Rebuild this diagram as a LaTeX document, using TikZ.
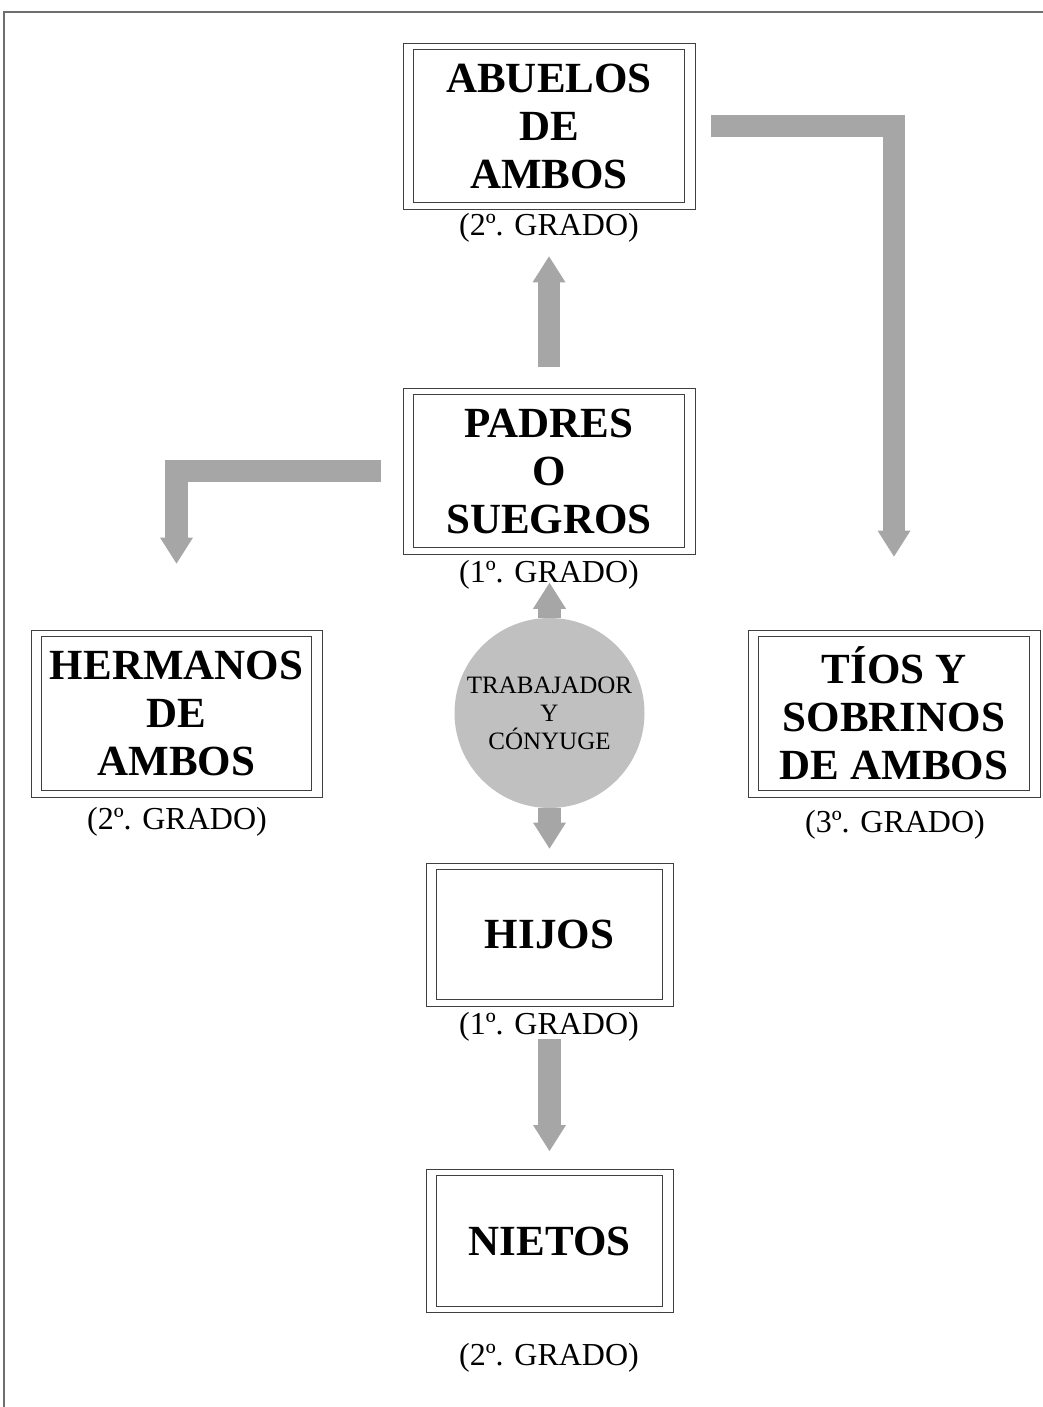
\documentclass[tikz,border=0pt]{standalone}
\usepackage{fontspec}
\setmainfont{Liberation Serif}
\usetikzlibrary{arrows.meta}
\definecolor{arrowgray}{RGB}{166,166,166}
\definecolor{discgray}{RGB}{192,192,192}
\definecolor{framegray}{RGB}{110,110,110}
\tikzset{
	kinbox/.style={draw=black!75, line width=0.8pt, minimum width=292pt, minimum height=166pt, align=center, inner sep=0pt, font=\fontsize{43}{48}\selectfont\bfseries},
	smallbox/.style={kinbox, minimum width=247pt, minimum height=143pt},
	grado/.style={inner sep=0pt, font=\fontsize{32}{36}\selectfont},
	bigarrow/.style={draw=arrowgray, line width=22.5pt, line join=miter, -{Triangle[length=26pt,width=33pt,line width=0pt]}}
}

\begin{document}
\begin{tikzpicture}[x=1pt,y=1pt]
			%%%%% START %%%%%
			\useasboundingbox (0,0) rectangle (1043,1407);
			
			\draw[framegray, line width=1.5pt] (4,0) -- (4,1395) -- (1043,1395);
			
			\node[kinbox] (abuelos) at (549,1281) {ABUELOS\\DE\\AMBOS};
			\node[kinbox] (padres) at (549,936) {PADRES\\O\\SUEGROS};
			\node[kinbox, minimum width=291pt, minimum height=167pt] (hermanos) at (176.5,693.5) {HERMANOS\\DE\\AMBOS};
			\node[kinbox, minimum height=167pt] (tios) at (894,693.5) {TÍOS Y\\SOBRINOS\\DE AMBOS};
			\node[smallbox] (hijos) at (549.5,472.5) {HIJOS};
			\node[smallbox] (nietos) at (549.5,166) {NIETOS};
			
			\foreach \n in {abuelos,padres,hermanos,tios,hijos,nietos}
				\draw[draw=black!75, line width=0.8pt] ([shift={(11,-6.5)}]\n.north west) rectangle ([shift={(-11,6.5)}]\n.south east);
			
			\node[circle, fill=discgray, minimum size=190pt, inner sep=0pt, align=center, font=\fontsize{25}{28}\selectfont] (yo) at (549.5,694) {TRABAJADOR\\Y\\CÓNYUGE};
			
			\draw[bigarrow] ([yshift=21pt]padres.north) -- ([yshift=-47pt]abuelos.south);
			\draw[bigarrow] (yo.north) -- ([yshift=35pt]yo.north);
			\draw[bigarrow] (yo.south) -- ([yshift=14pt]hijos.north);
			\draw[bigarrow] ([yshift=-33pt]hijos.south) -- ([yshift=18pt]nietos.north);
			\draw[bigarrow] ([xshift=16pt]abuelos.east) -| ([yshift=73pt]tios.north);
			\draw[bigarrow] ([xshift=-22pt]padres.west) -| ([yshift=66pt]hermanos.north);
			
			\node[grado] (abuelosg) at (549,1179) {(2º. GRADO)};
			\node[grado] (padresg) at (549,832) {(1º. GRADO)};
			\node[grado] (hermanosg) at (177,585) {(2º. GRADO)};
			\node[grado] (tiosg) at (895,582) {(3º. GRADO)};
			\node[grado] (hijosg) at (549,380) {(1º. GRADO)};
			\node[grado] (nietosg) at (549,49) {(2º. GRADO)};
			
			%%%%% END %%%%%
\end{tikzpicture}
\end{document}
